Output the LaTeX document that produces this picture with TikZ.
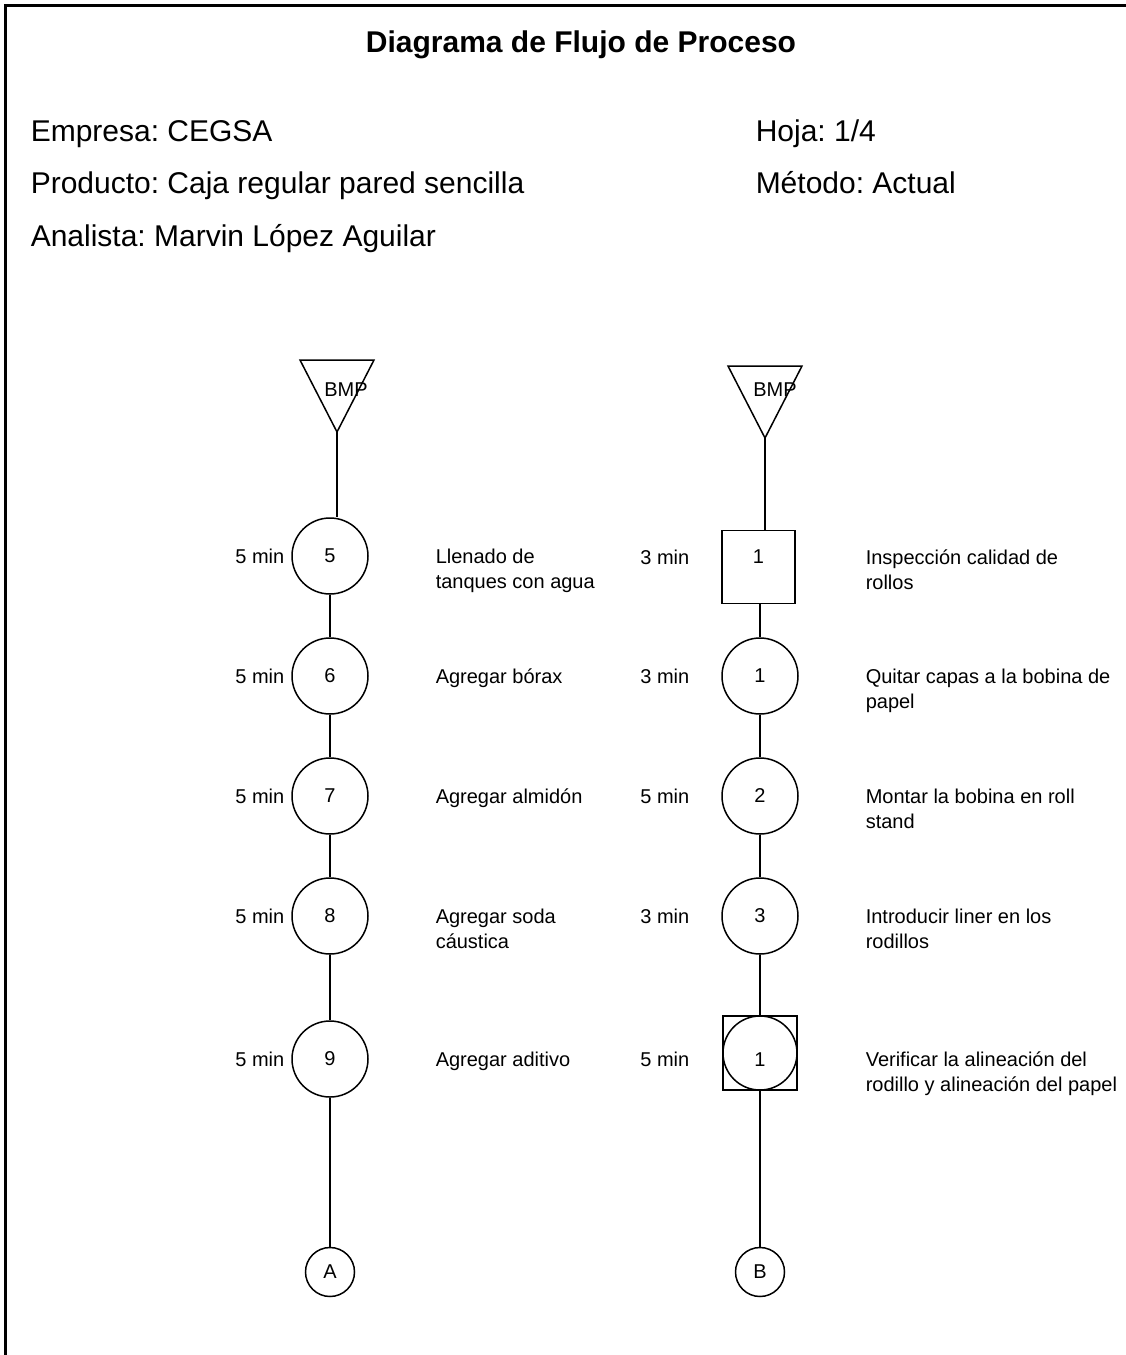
\documentclass[tikz,border=0pt]{standalone}
\usepackage{fontspec}
\setmainfont{Liberation Sans}
\frenchspacing
\begin{document}
\begin{tikzpicture}[x=1pt,y=-1pt,line width=1.5pt,
  small/.style={font=\fontsize{20}{25}\selectfont},
  big/.style={font=\fontsize{30}{36}\selectfont},
  op/.style={draw,circle,minimum size=76pt,inner sep=0pt,small},
  insp/.style={draw,rectangle,minimum size=73pt,inner sep=0pt},
  conn/.style={draw,circle,minimum size=49pt,inner sep=0pt,small},
  desc/.style={small,anchor=north west,align=left,inner sep=0pt},
  tim/.style={small,anchor=base east,inner sep=0pt},
  hdr/.style={big,anchor=base west,inner sep=0pt},
  flow/.style={line width=1.5pt}]
\useasboundingbox (0,0) rectangle (1125,1355);
\fill[white] (0,0) rectangle (1125,1355);
\draw[line width=3pt] (5.5,1360) -- (5.5,5) -- (1130,5);

% header
\node[font=\fontsize{30}{36}\selectfont\bfseries,anchor=base,inner sep=0pt] (title) at (581,52) {Diagrama de Flujo de Proceso};
\node[hdr] (emp) at (30,141) {Empresa: CEGSA};
\node[hdr] (prod) at (30,193) {Producto: Caja regular pared sencilla};
\node[hdr] (anal) at (30,246) {Analista: Marvin López Aguilar};
\node[hdr] (hoja) at (755,141) {Hoja: 1/4};
\node[hdr] (met) at (755,193) {Método: Actual};

% left column
\draw (300,360) -- (374,360) -- (337,432) -- cycle;
\coordinate (ta) at (337,432);
\node[small,inner sep=0pt] (bmpa) at (346,390) {BMP};
\node[op] (c5) at (330,556) {5};
\node[op] (c6) at (330,676) {6};
\node[op] (c7) at (330,796) {7};
\node[op] (c8) at (330,916) {8};
\node[op] (c9) at (330,1059) {9};
\node[conn] (A) at (330,1272) {A};
\draw[flow] (ta) -- (ta |- c5.north);
\draw[flow] (c5) -- (c6);
\draw[flow] (c6) -- (c7);
\draw[flow] (c7) -- (c8);
\draw[flow] (c8) -- (c9);
\draw[flow] (c9) -- (A);

\node[tim] (t5) at (285,563) {5 min};
\node[tim] (t6) at (285,683) {5 min};
\node[tim] (t7) at (285,803) {5 min};
\node[tim] (t8) at (285,923) {5 min};
\node[tim] (t9) at (285,1066) {5 min};
\node[desc] (d5) at (435,548.4) {Llenado de\\tanques con agua};
\node[desc] (d6) at (435,668.4) {Agregar bórax};
\node[desc] (d7) at (435,788.4) {Agregar almidón};
\node[desc] (d8) at (435,908.4) {Agregar soda\\cáustica};
\node[desc] (d9) at (435,1051.4) {Agregar aditivo};

% right column
\draw (728,366) -- (802,366) -- (765,438) -- cycle;
\coordinate (tb) at (765,438);
\node[small,inner sep=0pt] (bmpb) at (775,390) {BMP};
\node[insp] (s1) at (758.5,567) {};
\node[small,inner sep=0pt] (s1n) at (758.5,557) {1};
\node[op] (r1) at (760,676) {1};
\node[op] (r2) at (760,796) {2};
\node[op] (r3) at (760,916) {3};
\node[insp,minimum size=74pt] (sq) at (760,1053) {};
\node[op,minimum size=74pt] (sc) at (760,1053) {};
\node[small,inner sep=0pt] (scn) at (760,1060) {1};
\node[conn] (B) at (760,1272) {B};
\draw[flow] (tb) -- (tb |- s1.north);
\draw[flow] (r1 |- s1.south) -- (r1);
\draw[flow] (r1) -- (r2);
\draw[flow] (r2) -- (r3);
\draw[flow] (r3) -- (sq.north);
\draw[flow] (sq.south) -- (B);

\node[tim] (u1) at (690,564) {3 min};
\node[tim] (u2) at (690,683) {3 min};
\node[tim] (u3) at (690,803) {5 min};
\node[tim] (u4) at (690,923) {3 min};
\node[tim] (u5) at (690,1066) {5 min};
\node[desc] (e1) at (865,549.4) {Inspección calidad de\\rollos};
\node[desc] (e2) at (865,668.4) {Quitar capas a la bobina de\\papel};
\node[desc] (e3) at (865,788.4) {Montar la bobina en roll\\stand};
\node[desc] (e4) at (865,908.4) {Introducir liner en los\\rodillos};
\node[desc] (e5) at (865,1051.4) {Verificar la alineación del\\rodillo y alineación del papel};
\end{tikzpicture}
\end{document}
